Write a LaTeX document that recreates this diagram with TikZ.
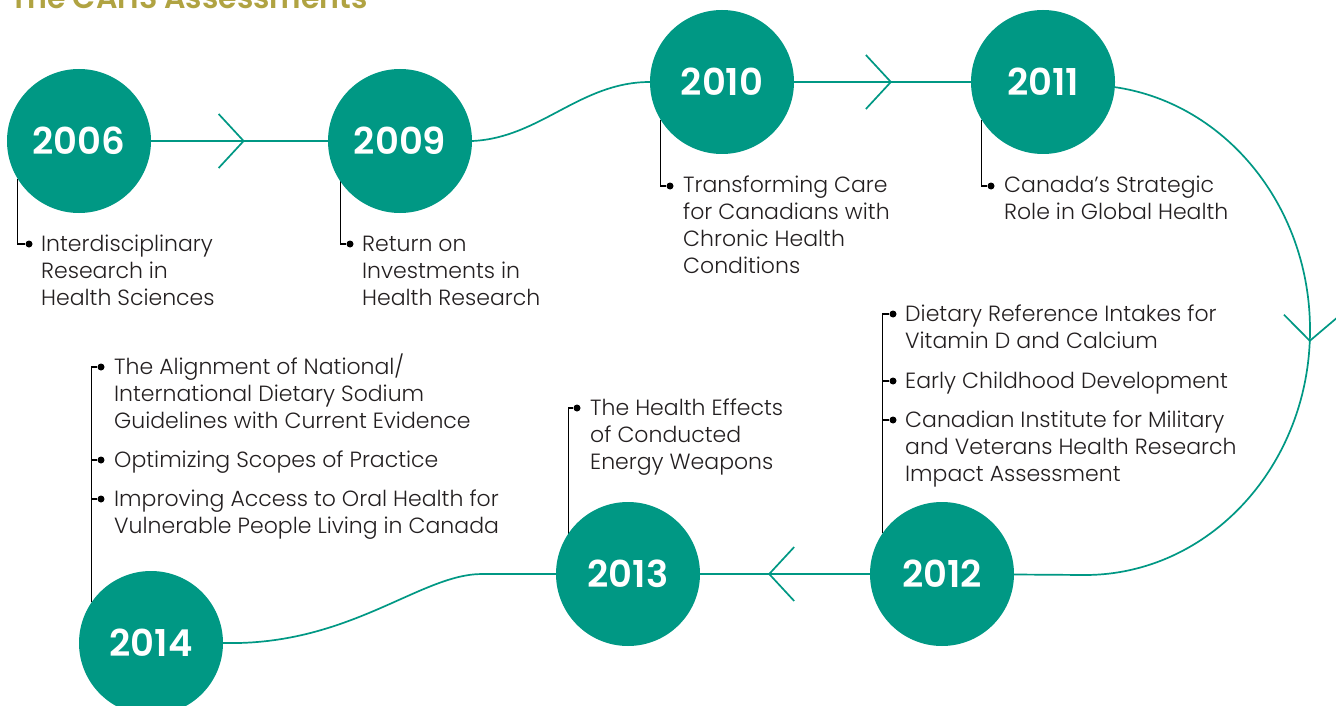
\documentclass[tikz,border=0pt]{standalone}
\usepackage{fontspec}
\setmainfont{Poppins}[UprightFont=* Light, BoldFont=* SemiBold]
\usetikzlibrary{positioning}
\usetikzlibrary{calc}
\usetikzlibrary{arrows.meta}
\usetikzlibrary{decorations.markings}
\usetikzlibrary{backgrounds}
\definecolor{cahsteal}{RGB}{0,152,132}
\definecolor{cahsgold}{RGB}{176,163,66}
\definecolor{ink}{RGB}{35,31,32}
% first line of the stack sits on the baseline
\newcommand{\itemlines}[1]{\begin{tabular}[t]{@{}l@{}}#1\end{tabular}}
\tikzset{year/.style = {circle, fill=cahsteal, minimum size=144pt, inner sep=0,
                        text=white, font=\bfseries\fontsize{37}{37}\selectfont}}
\tikzset{track/.style = {draw=cahsteal, line width=1.7pt}}
\tikzset{chev/.style = {decoration={markings,
                                    mark=at position #1
                                    with {\arrow{Straight Barb[length=25pt, width=54pt]}}},
                        postaction={decorate}}}
\tikzset{lead/.style = {draw=black, line width=1.2pt}}
\tikzset{dot/.style = {fill, circle, inner sep = 0, minimum size = 7pt}}
\tikzset{item/.style = {anchor=base west, inner sep=0, text=ink,
                        font=\fontsize{22}{27}\selectfont}}

\begin{document}
\begin{tikzpicture}[x=1pt, y=-1pt]
  \useasboundingbox (0,0) rectangle (1336,706);
  \node[anchor=base west, inner sep=0, text=cahsgold,
        font=\bfseries\fontsize{30}{30}\selectfont] (title) at (10,9) {The CAHS Assessments};

  % years
  \node[year] (y06) at (79,141) {2006};
  \node[year] (y09) at (400,141) {2009};
  \node[year] (y10) at (722,82) {2010};
  \node[year] (y11) at (1043,82) {2011};
  \node[year] (y12) at (942,574) {2012};
  \node[year] (y13) at (628,574) {2013};
  \node[year] (y14) at (151,643) {2014};

  % assessments
  \node[dot] (d06) at (29,244) {};
  \node[item] (t06) at ($(d06)+(12,7)$) {\itemlines{Interdisciplinary\\Research in\\Health Sciences}};
  \node[dot] (d09) at (350,244) {};
  \node[item] (t09) at ($(d09)+(12,7)$) {\itemlines{Return on\\Investments in\\Health Research}};
  \node[dot] (d10) at (670,186) {};
  \node[item] (t10) at ($(d10)+(13,7)$) {\itemlines{Transforming Care\\for Canadians with\\Chronic Health\\Conditions}};
  \node[dot] (d11) at (991,186) {};
  \node[item] (t11) at ($(d11)+(13,7)$) {\itemlines{Canada’s Strategic\\Role in Global Health}};

  \node[dot] (d12a) at (893,314) {};
  \node[item] (t12a) at ($(d12a)+(12,7)$) {\itemlines{Dietary Reference Intakes for\\Vitamin D and Calcium}};
  \node[dot] (d12b) at (893,381) {};
  \node[item] (t12b) at ($(d12b)+(12,7)$) {Early Childhood Development};
  \node[dot] (d12c) at (893,420) {};
  \node[item] (t12c) at ($(d12c)+(12,7)$) {\itemlines{Canadian Institute for Military\\and Veterans Health Research\\Impact Assessment}};

  \node[dot] (d13) at (577,408) {};
  \node[item] (t13) at ($(d13)+(13,7)$) {\itemlines{The Health Effects\\of Conducted\\Energy Weapons}};

  \node[dot] (d14a) at (101,367) {};
  \node[item] (t14a) at ($(d14a)+(13,7)$) {\itemlines{The Alignment of National/\\International Dietary Sodium\\Guidelines with Current Evidence}};
  \node[dot] (d14b) at (101,460) {};
  \node[item] (t14b) at ($(d14b)+(13,7)$) {Optimizing Scopes of Practice};
  \node[dot] (d14c) at (101,499) {};
  \node[item] (t14c) at ($(d14c)+(13,7)$) {\itemlines{Improving Access to Oral Health for\\Vulnerable People Living in Canada}};

  \begin{scope}[on background layer]
    \fill[white] (0,0) rectangle (1336,706);
    % timeline
    \draw[track, chev=0.53] (y06) -- (y09);
    \draw[track] (y09.east) .. controls (540,138) and (580,82) .. (y10.west);
    \draw[track, chev=0.554] (y10) -- (y11);
    \draw[track, chev=0.49] (y11) -- (1085,85)
         arc[start angle=-90, end angle=90, x radius=225, y radius=245] -- (y12);
    \draw[track, chev=0.6] (y12) -- (y13);
    \draw[track] (y13) -- (482,574) .. controls (420,574) and (350,646) .. (y14.east);
    % leaders
    \draw[lead] (y06.212) |- (d06);
    \draw[lead] (y09.214) |- (d09);
    \draw[lead] (y10.212) |- (d10);
    \draw[lead] (y11.212) |- (d11);
    \draw[lead] (y12.145) |- (d12a);
    \draw[lead] (d12b) -- (d12b -| y12.145);
    \draw[lead] (d12c) -- (d12c -| y12.145);
    \draw[lead] (y13.146) |- (d13);
    \draw[lead] (y14.145) |- (d14a);
    \draw[lead] (d14b) -- (d14b -| y14.145);
    \draw[lead] (d14c) -- (d14c -| y14.145);
  \end{scope}
\end{tikzpicture}
\end{document}
